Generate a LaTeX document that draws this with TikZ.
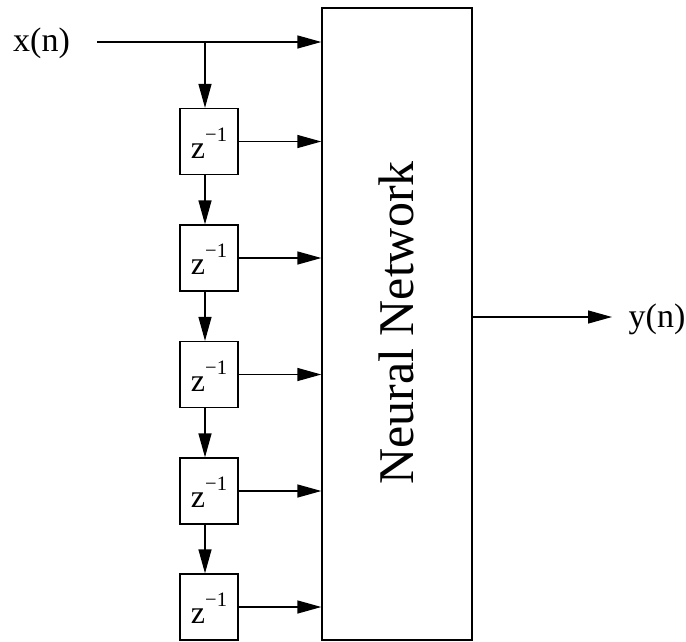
\documentclass[tikz,border=0pt]{standalone}
\usepackage{fontspec}
\setmainfont{Liberation Serif}
\usetikzlibrary{arrows.meta,calc}
\newcommand\zinv{z\raisebox{17pt}{\fontsize{20.5}{20}\selectfont −1}}
\begin{document}
\begin{tikzpicture}[x=1pt,y=-1pt,
  wire/.style={line width=1.3pt},
  arr/.style={wire,-{Triangle[length=24pt,width=13pt]}},
  delaybox/.style={draw,line width=1.3pt,minimum width=58pt,minimum height=66pt,inner sep=0pt},
  zlab/.style={anchor=base,inner sep=0pt,font=\fontsize{32}{38}\selectfont},
  iolab/.style={anchor=base,inner sep=0pt,font=\fontsize{34}{40}\selectfont},
  netbox/.style={draw,line width=1.3pt,minimum width=150pt,minimum height=632pt,inner sep=0pt}
]
\useasboundingbox (0,0) rectangle (686,641);

\node[netbox] (nn) at (397,324) {};
\node[rotate=90,inner sep=0pt,font=\fontsize{50}{60}\selectfont] (nnt) at (396,323) {Neural Network};

\node[delaybox] (b1) at (209,141.5) {};
\node[delaybox] (b2) at (209,258) {};
\node[delaybox] (b3) at (209,374.5) {};
\node[delaybox] (b4) at (209,491) {};
\node[delaybox] (b5) at (209,607) {};

\node[zlab] (t1) at (209,158) {\zinv};
\node[zlab] (t2) at (209,274.5) {\zinv};
\node[zlab] (t3) at (209,391) {\zinv};
\node[zlab] (t4) at (209,507.5) {\zinv};
\node[zlab] (t5) at (209,623.5) {\zinv};

\node[iolab] (xn) at (41.5,51) {x(n)};
\node[iolab] (yn) at (657,327) {y(n)};

\coordinate (xs) at (97,42);
\coordinate (br) at (205,42);
\coordinate (yo) at (612,317);

\draw[arr] (xs) -- (xs -| nn.west);
\draw[arr] (br) -- (br |- b1.north);
\draw[arr] (br |- b1.south) -- (br |- b2.north);
\draw[arr] (br |- b2.south) -- (br |- b3.north);
\draw[arr] (br |- b3.south) -- (br |- b4.north);
\draw[arr] (br |- b4.south) -- (br |- b5.north);

\foreach \b in {b1,b2,b3,b4,b5}
  \draw[arr] (\b.east) -- (\b.east -| nn.west);

\draw[arr] (yo -| nn.east) -- (yo);
\end{tikzpicture}
\end{document}
